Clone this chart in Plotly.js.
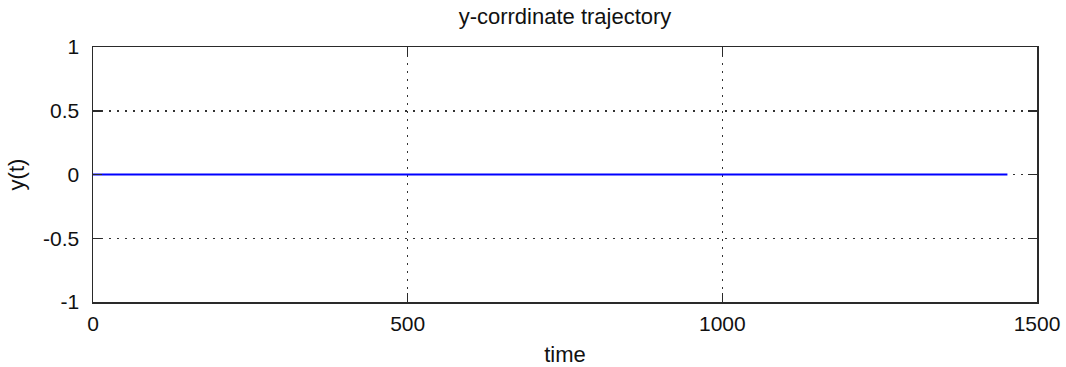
<!DOCTYPE html>
<html><head><meta charset="utf-8">
<script src="https://cdn.plot.ly/plotly-3.0.1.min.js"></script>
<style>html,body{margin:0;padding:0;background:#fff;}#chart{width:1066px;height:367px;}</style>
</head><body><div id="chart"></div>
<script>
const time = [0, 250, 500, 750, 1000, 1250, 1453];
const yValues = [0, 0, 0, 0, 0, 0, 0];
const xTicks = [0, 500, 1000, 1500];
const yTicks = [-1, -0.5, 0, 0.5, 1];

const FONT = 'Liberation Sans, Arial, sans-serif';
const axisCommon = {
  showline: true, linecolor: '#2a2a2a', linewidth: 1.5, mirror: 'allticks',
  ticks: 'inside', ticklen: 9, tickcolor: '#2a2a2a', tickwidth: 1.5,
  showgrid: true, gridcolor: '#333', griddash: '1.5px,6.5px', gridwidth: 1.5,
  zeroline: false, tickfont: {family: FONT, size: 21, color: '#111'}
};

Plotly.newPlot('chart', [{
  x: time, y: yValues, type: 'scatter', mode: 'lines',
  line: {color: '#0000ff', width: 1.8}, hoverinfo: 'skip'
}], {
  width: 1066, height: 367,
  margin: {l: 93, r: 29, t: 47, b: 65},
  paper_bgcolor: '#fff', plot_bgcolor: '#fff',
  showlegend: false,
  title: {text: 'y-corrdinate trajectory', x: 0.5, xref: 'paper', xanchor: 'center', y: 1, yref: 'container', yanchor: 'top', pad: {t: 9},
    font: {family: FONT, size: 22, color: '#111'}},
  xaxis: Object.assign({}, axisCommon, {
    range: [0, 1500], tickvals: xTicks, ticktext: xTicks.map(String), ticklabelstandoff: 2,
    title: {text: 'time', standoff: 14, font: {family: FONT, size: 22, color: '#111'}}
  }),
  yaxis: Object.assign({}, axisCommon, {
    range: [-1, 1], tickvals: yTicks, ticktext: yTicks.map(String), ticklabelstandoff: 8,
    title: {text: 'y(t)', standoff: 12, font: {family: FONT, size: 22, color: '#111'}}
  })
}, {staticPlot: true});
</script></body></html>
